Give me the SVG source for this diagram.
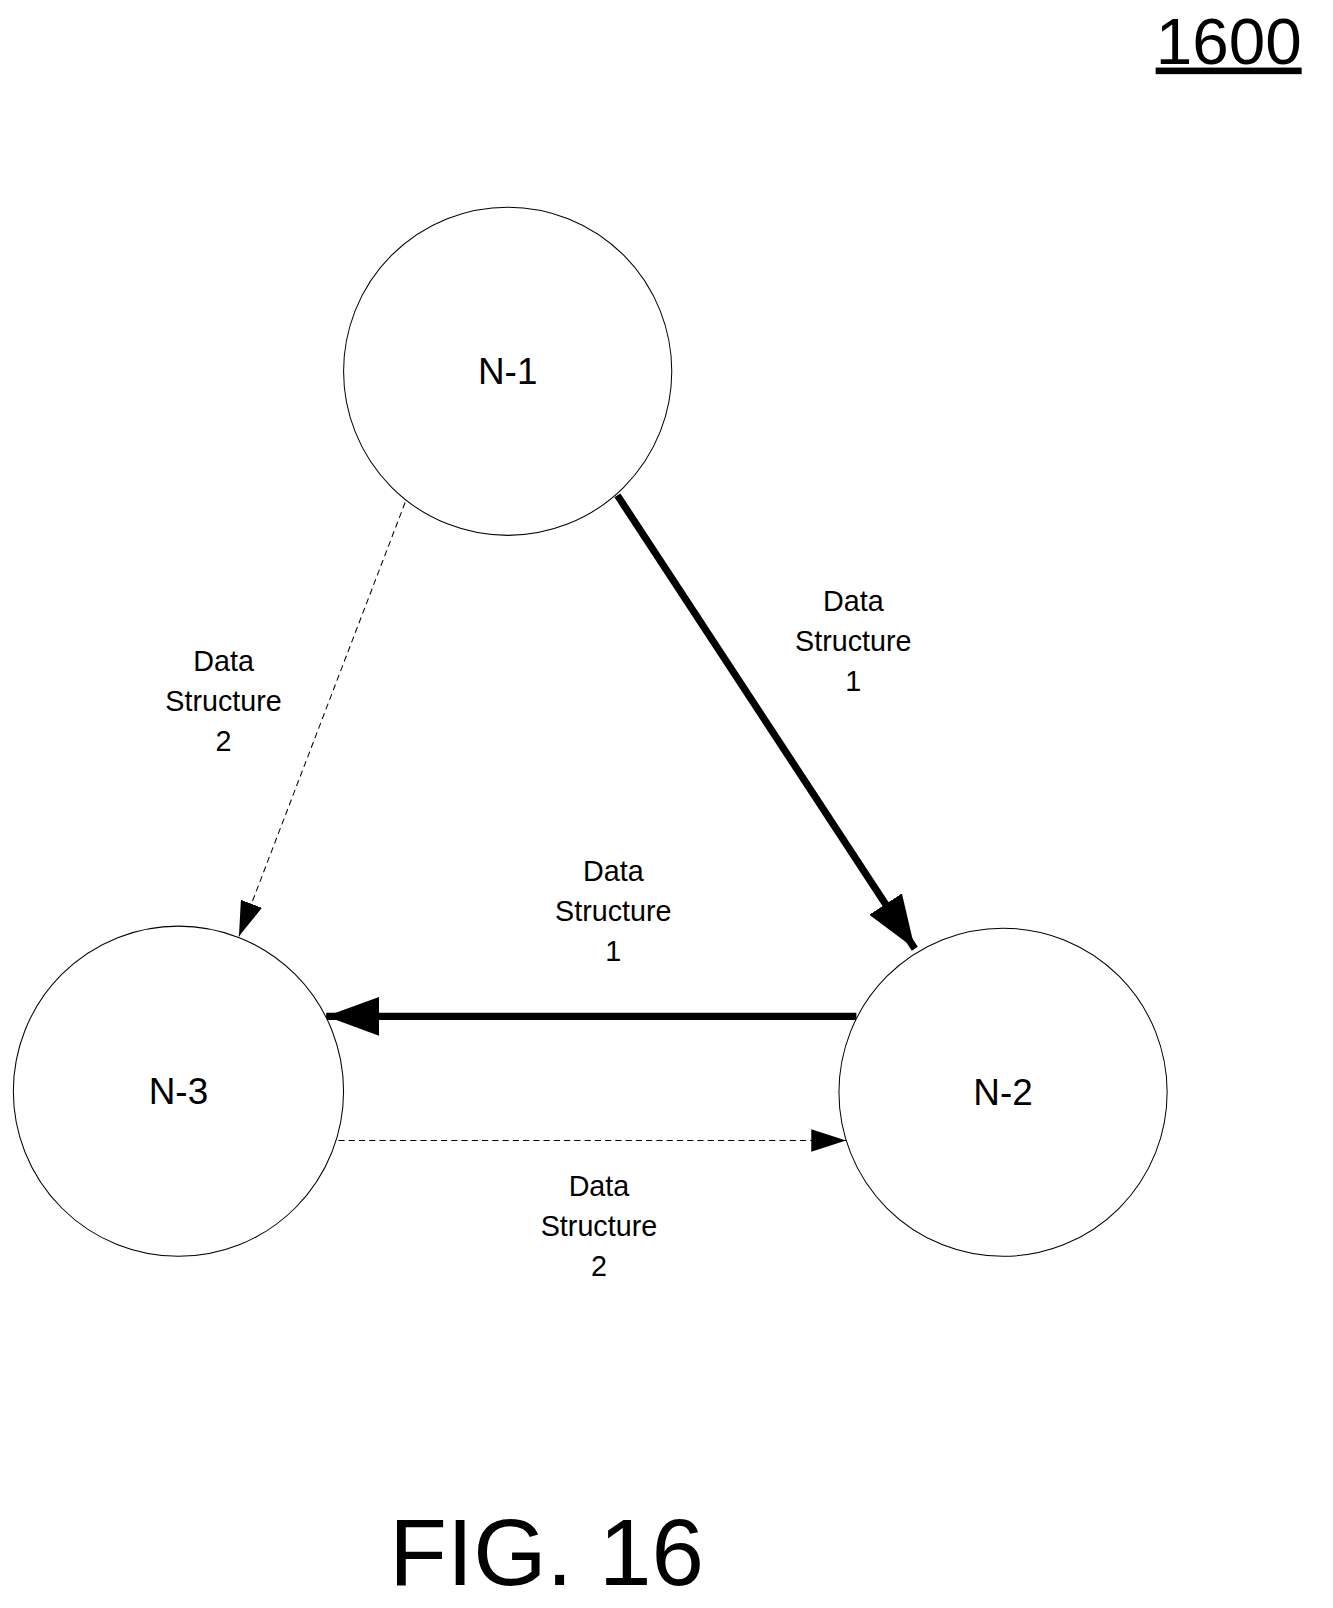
<svg xmlns="http://www.w3.org/2000/svg" width="1333" height="1608" viewBox="0 0 1333 1608">
<style>
text{font-family:"Liberation Sans",Arial,sans-serif;fill:#000;text-anchor:middle}
.n{fill:#fff;stroke:#000;stroke-width:1}
.lb{font-size:28px}
.thick{stroke:#000;stroke-width:7;fill:none}
.dash{stroke:#000;stroke-width:1;stroke-dasharray:6,4;fill:none}
</style>
<defs>
<marker id="bigA" viewBox="0 0 52 38" refX="52" refY="19" markerWidth="52" markerHeight="38" markerUnits="userSpaceOnUse" orient="auto"><path d="M0,0 L52,19 L0,38 z" fill="#000"/></marker>
<marker id="smallA" viewBox="0 0 34 22" refX="34" refY="11" markerWidth="34" markerHeight="22" markerUnits="userSpaceOnUse" orient="auto"><path d="M0,0 L34,11 L0,22 z" fill="#000"/></marker>
</defs>
<g transform="scale(1.0256)">
<text x="1198" y="62" font-size="64" text-decoration="underline">1600</text>
<g id="connectors">
<line class="thick" x1="602" y1="483" x2="892" y2="925" marker-end="url(#bigA)"/>
<line class="thick" x1="835" y1="991" x2="318" y2="991" marker-end="url(#bigA)"/>
<line class="dash" x1="395" y1="490" x2="233" y2="913" marker-end="url(#smallA)"/>
<line class="dash" x1="330" y1="1112" x2="825" y2="1112" marker-end="url(#smallA)"/>
<text class="lb" x="832" y="596">Data</text><text class="lb" x="832" y="635">Structure</text><text class="lb" x="832" y="674">1</text>
<text class="lb" x="218" y="654">Data</text><text class="lb" x="218" y="693">Structure</text><text class="lb" x="218" y="732">2</text>
<text class="lb" x="598" y="859">Data</text><text class="lb" x="598" y="898">Structure</text><text class="lb" x="598" y="937">1</text>
<text class="lb" x="584" y="1166">Data</text><text class="lb" x="584" y="1205">Structure</text><text class="lb" x="584" y="1244">2</text>
</g>
<g id="N-1"><circle class="n" cx="495" cy="362" r="160"/><text x="495" y="374" font-size="36">N-1</text></g>
<g id="N-3"><circle class="n" cx="174" cy="1064" r="161"/><text x="174" y="1076" font-size="36">N-3</text></g>
<g id="N-2"><circle class="n" cx="978" cy="1065" r="160"/><text x="978" y="1077" font-size="36">N-2</text></g>
<text x="533" y="1545" font-size="92">FIG. 16</text>
</g>
</svg>
